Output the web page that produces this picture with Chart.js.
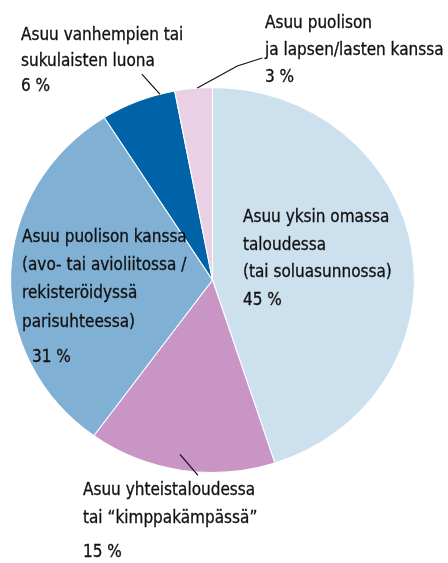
<!DOCTYPE html>
<html>
<head>
<meta charset="utf-8">
<script src="https://cdn.jsdelivr.net/npm/chart.js@4/dist/chart.umd.min.js"></script>
<style>
  html, body { margin: 0; padding: 0; background: #fff; }
  #wrap { position: relative; width: 448px; height: 563px; overflow: hidden; }
  #chart { position: absolute; left: 0; top: 0; }
  .lbl {
    position: absolute;
    white-space: nowrap;
    font-family: "Liberation Sans Narrow", "DejaVu Sans Condensed", "Roboto Condensed", sans-serif;
    font-stretch: condensed;
    font-size: 17px;
    line-height: 17px;
    color: #111;
    -webkit-text-stroke: 0.3px #111;
    transform-origin: 0 0;
  }
</style>
</head>
<body>
<div id="wrap">
  <canvas id="chart" width="448" height="563"></canvas>
</div>
<script>
// data
const categories = [
    'Asuu yksin omassa taloudessa (tai soluasunnossa)',
    'Asuu yhteistaloudessa tai “kimppakämpässä”',
    'Asuu puolison kanssa (avo- tai avioliitossa / rekisteröidyssä parisuhteessa)',
    'Asuu vanhempien tai sukulaisten luona',
    'Asuu puolison ja lapsen/lasten kanssa'
];
const shares = [45, 15, 31, 6, 3];
const labelLines = [
    ['Asuu yksin omassa', 'taloudessa', '(tai soluasunnossa)'],
    ['Asuu yhteistaloudessa', 'tai “kimppakämpässä”'],
    ['Asuu puolison kanssa', '(avo- tai avioliitossa /', 'rekisteröidyssä', 'parisuhteessa)'],
    ['Asuu vanhempien tai', 'sukulaisten luona'],
    ['Asuu puolison', 'ja lapsen/lasten kanssa']
];

// styles
const colors = ['#cde0ee', '#c995c5', '#80b1d5', '#0063a7', '#ead0e5'];
const stretchX = 1.049; // the original pie is slightly wider than tall
// text baselines per label: x, line baselines, percent x/baseline
const labelPos = [
    { x: 243, lines: [222, 250, 277], px: 243, py: 305 },
    { x: 83, lines: [495, 523], px: 83, py: 557 },
    { x: 22, lines: [242, 270, 298, 327], px: 32, py: 362 },
    { x: 21, lines: [40, 66], px: 21, py: 91 },
    { x: 265, lines: [28, 55], px: 265, py: 82 }
];
// leader lines: slice, position within slice, start radius, extra points (px offsets from start)
const leaders = [
    { i: 3, f: 0.8, r: 1.0, pts: [[-18, -20]] },
    { i: 4, f: 0.6, r: 1.0, pts: [[40, -22], [65, -30]] },
    { i: 1, f: 0.52, r: 0.92, pts: [[18, 21]] }
];

const wrap = document.getElementById('wrap');
const BASE = 14; // baseline offset inside a 17px line box (approx)
labelPos.forEach((p, i) => {
    labelLines[i].forEach((t, k) => {
        const d = document.createElement('div');
        d.className = 'lbl';
        d.textContent = t;
        d.style.left = p.x + 'px';
        d.style.top = (p.lines[k] - BASE) + 'px';
        wrap.appendChild(d);
    });
    const d = document.createElement('div');
    d.className = 'lbl';
    d.textContent = shares[i] + ' %';
    d.style.left = p.px + 'px';
    d.style.top = (p.py - BASE) + 'px';
    wrap.appendChild(d);
});

const stretchPlugin = {
    id: 'stretch',
    beforeDatasetsDraw(chart) {
        const arc = chart.getDatasetMeta(0).data[0];
        const ctx = chart.ctx;
        ctx.save();
        ctx.translate(arc.x, arc.y);
        ctx.scale(stretchX, 1);
        ctx.translate(-arc.x, -arc.y);
    },
    afterDatasetsDraw(chart) {
        chart.ctx.restore();
        // leader lines
        const ctx = chart.ctx;
        const meta = chart.getDatasetMeta(0);
        ctx.save();
        ctx.strokeStyle = '#111';
        ctx.lineWidth = 1.2;
        leaders.forEach(l => {
            const a = meta.data[l.i];
            const ang = a.startAngle + l.f * (a.endAngle - a.startAngle);
            const r = a.outerRadius * l.r;
            const x0 = a.x + stretchX * r * Math.cos(ang);
            const y0 = a.y + r * Math.sin(ang);
            ctx.beginPath();
            ctx.moveTo(x0, y0);
            l.pts.forEach(p => ctx.lineTo(x0 + p[0], y0 + p[1]));
            ctx.stroke();
        });
        ctx.restore();
    }
};

new Chart(document.getElementById('chart'), {
    type: 'pie',
    data: {
        labels: categories,
        datasets: [{
            data: shares,
            backgroundColor: colors,
            borderColor: '#ffffff',
            borderWidth: 1,
            clip: false
        }]
    },
    options: {
        responsive: false,
        animation: false,
        devicePixelRatio: 1,
        layout: { padding: { left: 19.5, right: 42.5, top: 87, bottom: 90 } },
        plugins: {
            legend: { display: false },
            tooltip: { enabled: false }
        }
    },
    plugins: [stretchPlugin]
});
</script>
</body>
</html>
